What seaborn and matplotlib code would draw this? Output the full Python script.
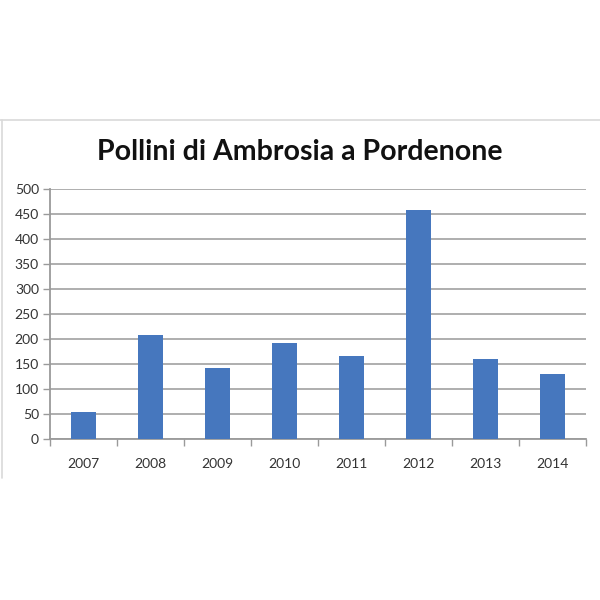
import matplotlib
matplotlib.use("Agg")
import matplotlib.pyplot as plt
import seaborn as sns
import pandas as pd
import numpy as np
from matplotlib.lines import Line2D

# Data
years = ["2007", "2008", "2009", "2010", "2011", "2012", "2013", "2014"]
pollen = [55, 208, 143, 192, 167, 458, 160, 130]

y_ticks = list(range(0, 501, 50))
title = "Pollini di Ambrosia a Pordenone"

BAR_COLOR = "#4677BE"
GRID_COLOR = "#a8a8a8"
AXIS_COLOR = "#9a9a9a"

sns.set_theme(style="white")
plt.rcParams["font.family"] = ["Lato", "DejaVu Sans"]

df = pd.DataFrame({"year": years, "pollen": pollen})

fig = plt.figure(figsize=(6, 6), dpi=100)
fig.patch.set_facecolor("white")
ax = fig.add_axes([50 / 600, 1 - 439 / 600, 536 / 600, 250 / 600])

sns.barplot(data=df, x="year", y="pollen", color=BAR_COLOR, width=0.37,
            saturation=1, linewidth=0, ax=ax, zorder=3)

ax.set_xlim(-0.5, len(years) - 0.5)
ax.set_ylim(0, 500)
ax.set_yticks(y_ticks)
ax.set_yticklabels([str(v) for v in y_ticks])
ax.set_xlabel("")
ax.set_ylabel("")

# horizontal gridlines
ax.yaxis.grid(True, color=GRID_COLOR, linewidth=1.3, zorder=0)
ax.xaxis.grid(False)
ax.set_axisbelow(True)

for s in ["top", "right"]:
    ax.spines[s].set_visible(False)
for s in ["left", "bottom"]:
    ax.spines[s].set_color(AXIS_COLOR)
    ax.spines[s].set_linewidth(1.3)

# category boundary ticks on x
ax.set_xticks(np.arange(-0.5, len(years), 1.0), minor=True)
ax.tick_params(axis="x", which="minor", length=5, color=AXIS_COLOR, width=1, direction="out")
ax.tick_params(axis="x", which="major", length=0, labelsize=10, labelcolor="#333333", pad=14)
ax.tick_params(axis="y", which="major", length=5, color=AXIS_COLOR, width=1,
               direction="out", labelsize=10, labelcolor="#333333", pad=3)
ax.tick_params(left=True, bottom=True, which="both")

fig.text(0.5, 1 - 152 / 600, title, ha="center", va="center",
         fontsize=20.5, fontweight="bold", color="#111111")

# light frame of the original chart area
fig.add_artist(Line2D([0, 1], [1 - 120 / 600, 1 - 120 / 600],
                      transform=fig.transFigure, color="#d9d9d9", linewidth=1.2))
fig.add_artist(Line2D([2 / 600, 2 / 600], [1 - 120 / 600, 1 - 478 / 600],
                      transform=fig.transFigure, color="#d9d9d9", linewidth=1.2))

fig.savefig("out.png", dpi=100, facecolor="white")
